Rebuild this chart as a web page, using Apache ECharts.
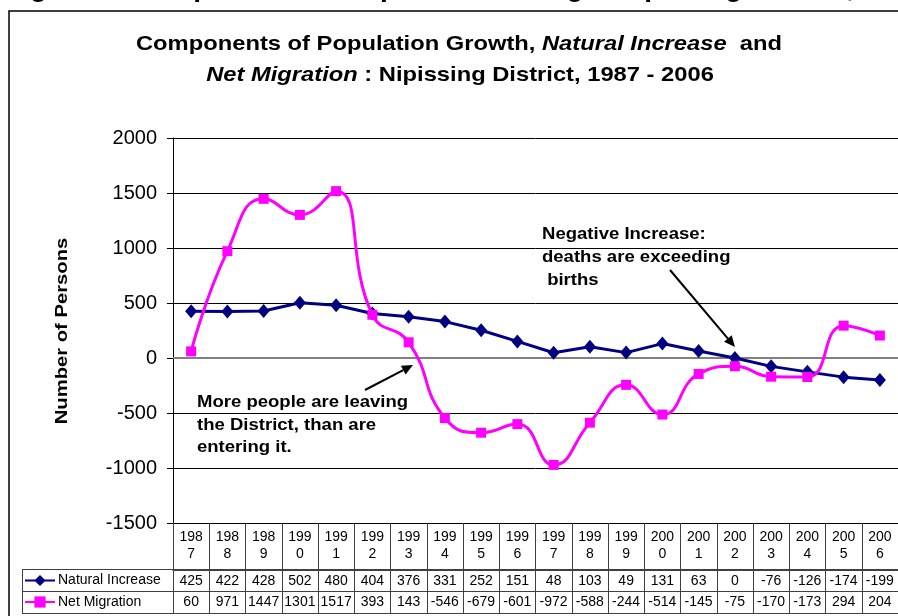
<!DOCTYPE html>
<html>
<head>
<meta charset="utf-8">
<script src="https://cdn.jsdelivr.net/npm/echarts@6/dist/echarts.min.js"></script>
<style>
  html, body { margin: 0; padding: 0; background: #fff; }
  #chart { width: 898px; height: 616px; }
</style>
</head>
<body>
<div id="chart"></div>
<script>
// Components of population growth, Nipissing District
const years = ['1987','1988','1989','1990','1991','1992','1993','1994','1995','1996',
               '1997','1998','1999','2000','2001','2002','2003','2004','2005','2006'];
const naturalIncrease = [425, 422, 428, 502, 480, 404, 376, 331, 252, 151,
                         48, 103, 49, 131, 63, 0, -76, -126, -174, -199];
const netMigration = [60, 971, 1447, 1301, 1517, 393, 143, -546, -679, -601,
                      -972, -588, -244, -514, -145, -75, -170, -173, 294, 204];
const seriesNames = ['Natural Increase', 'Net Migration'];

const FONT = '"Liberation Sans", Arial, sans-serif';
const TABLE_LINE = '#404040';

// straight arrow with a filled head at (x2, y2)
function arrow(x1, y1, x2, y2) {
  const a = Math.atan2(y2 - y1, x2 - x1);
  const L = 11, w = 5;
  const bx = x2 - L * Math.cos(a), by = y2 - L * Math.sin(a);
  return [
    { type: 'line', silent: true, z: 10,
      shape: { x1: x1, y1: y1, x2: bx, y2: by },
      style: { stroke: '#000', lineWidth: 2 } },
    { type: 'polygon', silent: true, z: 10,
      shape: { points: [[x2, y2],
                        [bx + w * Math.sin(a), by - w * Math.cos(a)],
                        [bx - w * Math.sin(a), by + w * Math.cos(a)]] },
      style: { fill: '#000' } }
  ];
}

function boldText(x, y, text, size, sx, extra) {
  return {
    type: 'text', x: x, y: y, scaleX: sx, silent: true, z: 10,
    style: Object.assign({
      text: text, fontFamily: FONT, fontWeight: 'bold', fontSize: size,
      fill: '#000', align: 'left', verticalAlign: 'middle'
    }, extra || {})
  };
}

const italicRich = {
  i: { fontStyle: 'italic', fontWeight: 'bold', fontSize: 21, fontFamily: FONT, fill: '#000' },
  n: { fontWeight: 'bold', fontSize: 21, fontFamily: FONT, fill: '#000' }
};

// category axis used as one row of the data table
function tableAxis(offset, tickLen, labelMargin, formatter, extraLabel) {
  return {
    type: 'category', data: years, position: 'bottom', offset: offset, boundaryGap: true,
    axisLine: { show: true, onZero: false, lineStyle: { color: offset ? TABLE_LINE : '#000', width: 1 } },
    axisTick: { show: true, interval: 0, length: tickLen, lineStyle: { color: TABLE_LINE } },
    axisLabel: Object.assign({ interval: 0, margin: labelMargin, fontFamily: FONT, fontSize: 14,
                               color: '#000', formatter: formatter }, extraLabel || {}),
    splitLine: { show: false }
  };
}

const chart = echarts.init(document.getElementById('chart'), null, { renderer: 'canvas' });

const option = {
  animation: false,
  backgroundColor: '#fff',
  grid: { left: 173, top: 138, width: 728, height: 385, containLabel: false },
  legend: {
    data: seriesNames,
    orient: 'vertical',
    left: 24, top: 573.5,
    itemWidth: 30, itemHeight: 14, itemGap: 7.5,
    padding: 0,
    selectedMode: false,
    textStyle: { fontFamily: FONT, fontSize: 14, color: '#000', padding: [0, 0, 0, -2] }
  },
  xAxis: [
    tableAxis(0, 47, 6, y => y.slice(0, 3) + '\n' + y.slice(3), { lineHeight: 17 }),
    tableAxis(47, 21, 4, (v, i) => String(naturalIncrease[i])),
    tableAxis(68, 22, 4, (v, i) => String(netMigration[i]))
  ],
  yAxis: {
    type: 'value', min: -1500, max: 2000, interval: 500,
    axisLine: { show: true, lineStyle: { color: '#000', width: 1 } },
    axisTick: { show: true, length: 6, lineStyle: { color: '#000' } },
    axisLabel: { margin: 16, fontFamily: FONT, fontSize: 20, color: '#000',
                 formatter: v => String(v) },
    splitLine: { show: true, lineStyle: { color: '#000', width: 1 } }
  },
  series: [
    {
      name: seriesNames[0], type: 'line', data: naturalIncrease,
      symbol: 'diamond', symbolSize: [12, 14],
      lineStyle: { color: '#000080', width: 3 },
      itemStyle: { color: '#000080' },
      z: 2,
      markLine: {
        silent: true, symbol: 'none', z: 1, animation: false,
        label: { show: false },
        lineStyle: { color: '#808080', width: 2, type: 'solid' },
        data: [{ yAxis: 0 }]
      }
    },
    {
      name: seriesNames[1], type: 'line', data: netMigration, smooth: 0.5,
      symbol: 'rect', symbolSize: 10,
      lineStyle: { color: '#ff00ff', width: 3 },
      itemStyle: { color: '#ff00ff' },
      z: 3
    }
  ],
  graphic: [
    // outer frame
    { type: 'rect', silent: true, z: 0,
      shape: { x: 9, y: 11, width: 1000, height: 700 },
      style: { fill: 'none', stroke: '#000', lineWidth: 1.5 } },
    // caption running above the frame
    { type: 'text', x: 5, y: -12, silent: true,
      style: { text: 'Figure 4: Components of Population Change: Nipissing District, 1987 - 2006',
               fontFamily: FONT, fontWeight: 'bold', fontSize: 28, fill: '#000',
               align: 'left', verticalAlign: 'middle' } },
    // chart title
    { type: 'text', x: 459, y: 44, scaleX: 1.13, silent: true,
      style: { text: '{n|Components of Population Growth, }{i|Natural Increase}{n|  and}',
               rich: italicRich, align: 'center', verticalAlign: 'middle' } },
    { type: 'text', x: 460, y: 75, scaleX: 1.13, silent: true,
      style: { text: '{i|Net Migration}{n| : Nipissing District, 1987 - 2006}',
               rich: italicRich, align: 'center', verticalAlign: 'middle' } },
    // value axis title
    { type: 'text', x: 62, y: 331, rotation: Math.PI / 2, scaleX: 1.19, silent: true,
      style: { text: 'Number of Persons', fontFamily: FONT, fontWeight: 'bold', fontSize: 17,
               fill: '#000', align: 'center', verticalAlign: 'middle' } },
    // table frame
    { type: 'line', silent: true, shape: { x1: 22, y1: 569.5, x2: 898, y2: 569.5 },
      style: { stroke: TABLE_LINE, lineWidth: 1 } },
    { type: 'line', silent: true, shape: { x1: 22, y1: 591.5, x2: 898, y2: 591.5 },
      style: { stroke: TABLE_LINE, lineWidth: 1 } },
    { type: 'line', silent: true, shape: { x1: 22, y1: 613.5, x2: 898, y2: 613.5 },
      style: { stroke: TABLE_LINE, lineWidth: 1 } },
    { type: 'line', silent: true, shape: { x1: 22.5, y1: 569.5, x2: 22.5, y2: 613.5 },
      style: { stroke: TABLE_LINE, lineWidth: 1 } },
    { type: 'line', silent: true, shape: { x1: 173.5, y1: 523, x2: 173.5, y2: 613.5 },
      style: { stroke: TABLE_LINE, lineWidth: 1 } },
    // annotations
    boldText(197, 391.5, 'More people are leaving\nthe District, than are\nentering it.', 17, 1.09,
             { verticalAlign: 'top', lineHeight: 22.5 }),
    boldText(542, 222.5, 'Negative Increase:\ndeaths are exceeding\n births', 17, 1.09,
             { verticalAlign: 'top', lineHeight: 23 })
  ].concat(arrow(365, 390, 413, 365)).concat(arrow(670, 270, 735, 347))
};

chart.setOption(option);
</script>
</body>
</html>
